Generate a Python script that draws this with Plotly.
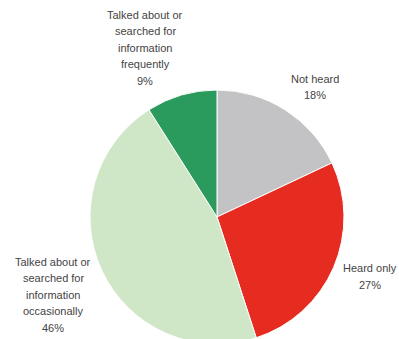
import plotly.graph_objects as go

# Awareness categories, listed clockwise from 12 o'clock
categories = [
    "Not heard",
    "Heard only",
    "Talked about or searched for information occasionally",
    "Talked about or searched for information frequently",
]
shares = [18, 27, 46, 9]
colors = ["#c3c3c5", "#e62b20", "#cfe7c7", "#2b9a5d"]

# How each label is broken into lines
label_lines = [
    ["Not heard"],
    ["Heard only"],
    ["Talked about or", "searched for", "information", "occasionally"],
    ["Talked about or", "searched for", "information", "frequently"],
]

W, H = 399, 344
ML, MR, MT, MB = 90, 55, 90, 0
PW, PH = W - ML - MR, H - MT - MB

fig = go.Figure(
    go.Pie(
        labels=categories,
        values=shares,
        sort=False,
        direction="clockwise",
        rotation=0,
        marker=dict(colors=colors, line=dict(color="white", width=1)),
        textinfo="none",
        hoverinfo="label+percent",
        domain=dict(x=[0, 1], y=[0, 1]),
    )
)


def px_to_paper(x, y):
    return (x - ML) / PW, 1 - (y - MT) / PH


# Label anchor (centre x, first line y) in pixels and line spacing
label_anchor = [(315, 78.7), (370, 268.3), (53, 261.7), (145, 15)]
LINE_STEP = 16.5

annotations = []
for lines, value, (cx, y0) in zip(label_lines, shares, label_anchor):
    for i, txt in enumerate(lines + [f"{value}%"]):
        ax, ay = px_to_paper(cx, y0 + i * LINE_STEP)
        annotations.append(
            dict(
                x=ax, y=ay, xref="paper", yref="paper",
                text=txt, showarrow=False,
                xanchor="center", yanchor="middle",
                font=dict(family="Liberation Sans, Arial, sans-serif", size=11, color="#444444"),
            )
        )

fig.update_layout(
    width=W,
    height=H,
    margin=dict(l=ML, r=MR, t=MT, b=MB, pad=0, autoexpand=False),
    showlegend=False,
    paper_bgcolor="white",
    plot_bgcolor="white",
    annotations=annotations,
)

fig.write_html(
    "out.html",
    config={"displayModeBar": False},
    post_script="document.documentElement.style.overflow='hidden';document.body.style.overflow='hidden';",
)
